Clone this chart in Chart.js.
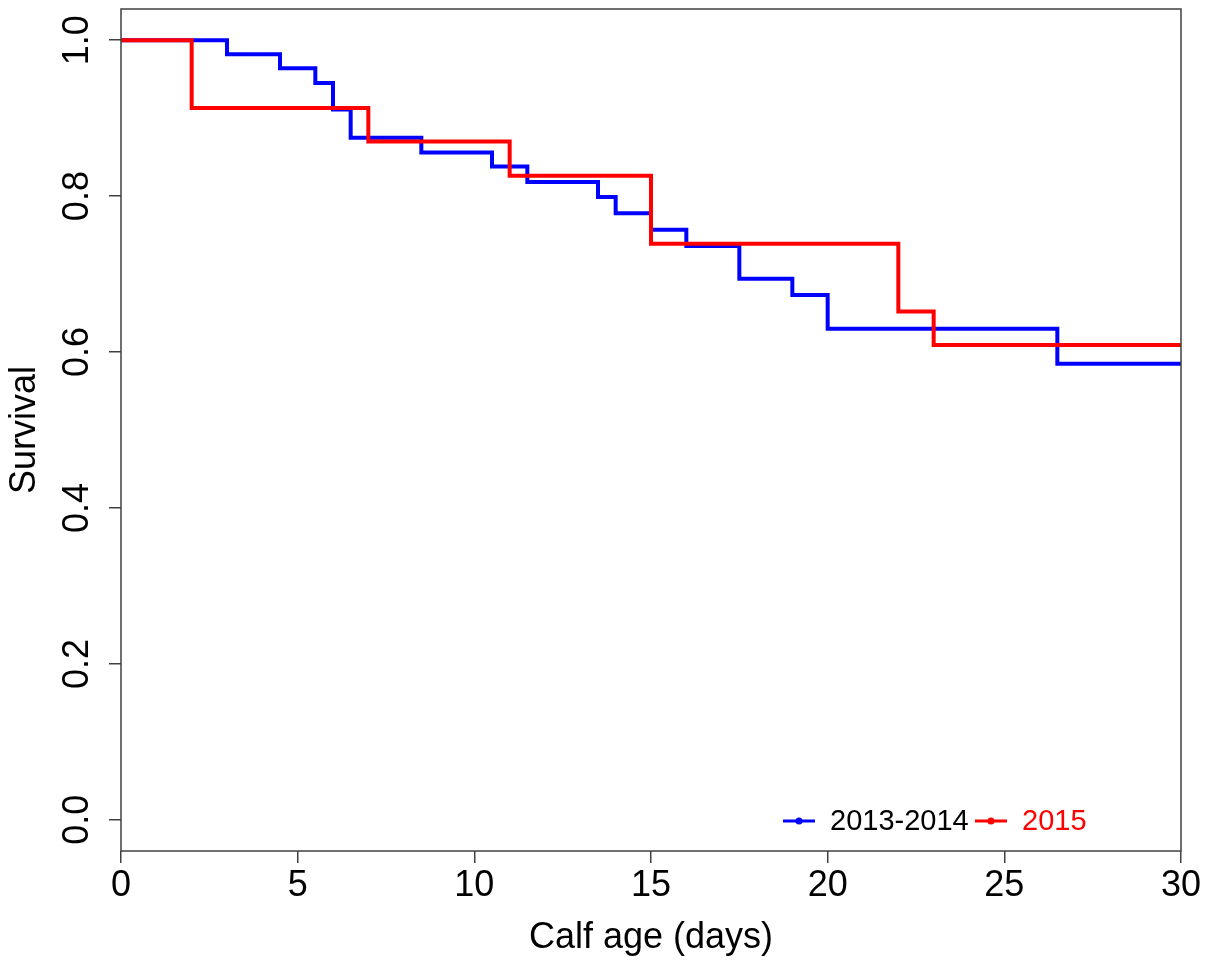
<!DOCTYPE html>
<html>
<head>
<meta charset="utf-8">
<script src="https://cdn.jsdelivr.net/npm/chart.js@4.4.0/dist/chart.umd.min.js"></script>
<style>
  body { margin: 0; background: #fff; }
  canvas { display: block; }
</style>
</head>
<body>
<canvas id="myChart" width="1211" height="963"></canvas>
<script>
// Kaplan-Meier steps
var seriesNames = ["2013-2014", "2015"];
var blueTimes = [0, 3, 4.5, 5.5, 6, 6.5, 8.5, 10.5, 11.5, 13.5, 14, 15, 16, 17.5, 19, 20, 26.5, 30];
var blueSurv  = [1, 0.982, 0.964, 0.945, 0.911, 0.875, 0.856, 0.838, 0.818, 0.799, 0.778, 0.757, 0.736, 0.694, 0.673, 0.630, 0.585, 0.585];
var redTimes  = [0, 2, 7, 11, 15, 22, 23, 30];
var redSurv   = [1, 0.913, 0.870, 0.826, 0.739, 0.652, 0.609, 0.609];
var xTicks = [0, 5, 10, 15, 20, 25, 30];
var yTicks = [0, 0.2, 0.4, 0.6, 0.8, 1.0];

var FONT = "'Liberation Sans', Arial, sans-serif";
var AXIS_COL = '#404040';

function toPoints(xs, ys) {
  return xs.map(function (x, i) { return { x: x, y: ys[i] }; });
}

// full box around the plot, rotated y tick labels, legend in bottom right
var decor = {
  id: 'decor',
  afterDraw: function (chart) {
    var c = chart.ctx, a = chart.chartArea;
    c.save();
    c.strokeStyle = AXIS_COL;
    c.lineWidth = 1.5;
    c.strokeRect(a.left, a.top, a.right - a.left, a.bottom - a.top);

    var ys = chart.scales.y;
    c.fillStyle = '#000';
    c.font = '36px ' + FONT;
    c.textAlign = 'center';
    c.textBaseline = 'middle';
    yTicks.forEach(function (v) {
      c.save();
      c.translate(78, ys.getPixelForValue(v));
      c.rotate(-Math.PI / 2);
      c.fillText(v.toFixed(1), 0, 0);
      c.restore();
    });

    // legend
    var lx = a.right - 398, ly = a.bottom - 30;
    c.font = '29px ' + FONT;
    c.textAlign = 'left';
    var textCols = ['#000', '#ff0000'];
    var offs = [0, 192];
    chart.data.datasets.forEach(function (ds, i) {
      var x0 = lx + offs[i];
      c.strokeStyle = ds.borderColor;
      c.lineWidth = 3;
      c.beginPath();
      c.moveTo(x0, ly);
      c.lineTo(x0 + 32, ly);
      c.stroke();
      c.fillStyle = ds.borderColor;
      c.beginPath();
      c.arc(x0 + 16, ly, 3.5, 0, Math.PI * 2);
      c.fill();
      c.fillStyle = textCols[i];
      c.fillText(ds.label, x0 + 47, ly + 1);
    });
    c.restore();
  }
};

var ctx = document.getElementById('myChart').getContext('2d');
var chart = new Chart(ctx, {
  type: 'line',
  data: {
    datasets: [{
      label: seriesNames[0],
      data: toPoints(blueTimes, blueSurv),
      borderColor: '#0000ff',
      borderWidth: 4,
      stepped: 'before',
      pointRadius: 0,
      fill: false,
      order: 1
    }, {
      label: seriesNames[1],
      data: toPoints(redTimes, redSurv),
      borderColor: '#ff0000',
      borderWidth: 4,
      stepped: 'before',
      pointRadius: 0,
      fill: false,
      order: 0
    }]
  },
  options: {
    responsive: false,
    animation: false,
    devicePixelRatio: 1,
    layout: { padding: { top: 9, right: 30, left: 0, bottom: 0 } },
    plugins: { legend: { display: false }, tooltip: { enabled: false } },
    scales: {
      x: {
        type: 'linear',
        min: 0,
        max: 30,
        afterBuildTicks: function (s) { s.ticks = xTicks.map(function (v) { return { value: v }; }); },
        afterFit: function (s) { s.height = 112; },
        ticks: { color: '#000', font: { family: FONT, size: 36 }, padding: 1, maxRotation: 0 },
        grid: { drawOnChartArea: false, drawTicks: true, tickLength: 12, color: AXIS_COL, lineWidth: 1.5 },
        border: { display: false },
        title: { display: true, text: 'Calf age (days)', color: '#000', font: { family: FONT, size: 36 }, padding: { top: 0, bottom: 3 } }
      },
      y: {
        min: -0.04,
        max: 1.04,
        afterBuildTicks: function (s) { s.ticks = yTicks.map(function (v) { return { value: v }; }); },
        afterFit: function (s) { s.width = 121; },
        ticks: { display: false },
        grid: { drawOnChartArea: false, drawTicks: true, tickLength: 12, color: AXIS_COL, lineWidth: 1.5 },
        border: { display: false },
        title: { display: true, text: 'Survival', color: '#000', font: { family: FONT, size: 36 }, padding: { top: 3, bottom: 0 } }
      }
    }
  },
  plugins: [decor]
});
</script>
</body>
</html>
